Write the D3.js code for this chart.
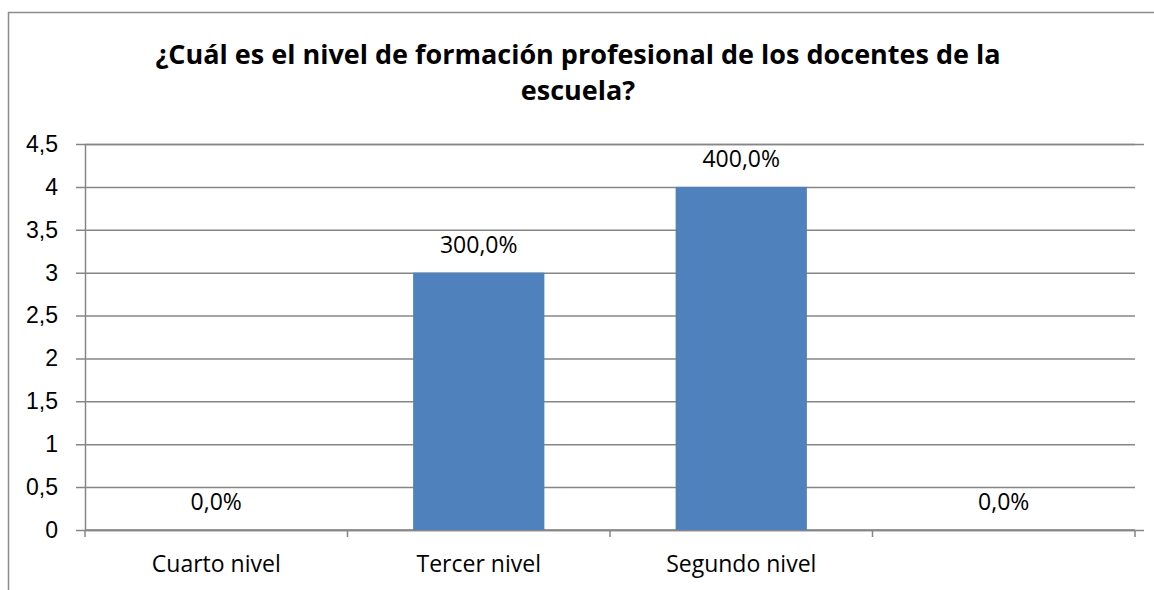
<!DOCTYPE html>
<html>
<head>
<meta charset="utf-8">
<title>Nivel de formación</title>
<script src="https://d3js.org/d3.v7.min.js"></script>
<style>
  body { margin: 0; background: #fff; }
  svg { font-family: "Open Sans", "Liberation Sans", sans-serif; }
</style>
</head>
<body>
<div id="chart"></div>
<script>
// data
var categories = ["Cuarto nivel", "Tercer nivel", "Segundo nivel", ""];
var values = [0, 3, 4, 0];
var valueLabels = ["0,0%", "300,0%", "400,0%", "0,0%"];
var yTicks = [0, 0.5, 1, 1.5, 2, 2.5, 3, 3.5, 4, 4.5];
var titleLines = ["¿Cuál es el nivel de formación profesional de los docentes de la", "escuela?"];

var W = 1154, H = 590;
var margin = { top: 144, right: 19, bottom: 60, left: 85 };
var width = W - margin.left - margin.right;
var height = H - margin.top - margin.bottom;

var svg = d3.select("#chart").append("svg")
    .attr("width", W)
    .attr("height", H);

// outer frame (right and bottom are cut off in the original)
svg.append("rect")
    .attr("x", 8.5).attr("y", 12.5)
    .attr("width", 1160).attr("height", 600)
    .attr("fill", "none")
    .attr("stroke", "#8c8c8c")
    .attr("stroke-width", 1.5);

svg.selectAll("text.title")
    .data(titleLines)
    .enter().append("text")
    .attr("class", "title")
    .attr("x", 578)
    .attr("y", function (d, i) { return 64 + i * 36; })
    .attr("text-anchor", "middle")
    .attr("font-size", 27)
    .attr("font-weight", "bold")
    .attr("fill", "#000")
    .text(function (d) { return d; });

var g = svg.append("g")
    .attr("transform", "translate(" + margin.left + "," + margin.top + ")");

var x = d3.scaleBand()
    .domain(d3.range(categories.length))
    .range([0, width])
    .paddingInner(0.5)
    .paddingOuter(0.25);

var y = d3.scaleLinear()
    .domain([0, 4.5])
    .range([height, 0]);

// gridlines + y axis
var yAxis = g.append("g")
    .call(d3.axisLeft(y).tickValues(yTicks)
        .tickSize(-width - 9)
        .tickFormat(function (d) { return String(d).replace(".", ","); }));
yAxis.select(".domain").attr("stroke", "#868686").attr("stroke-width", 1.5);
yAxis.selectAll(".tick line")
    .attr("stroke", "#868686")
    .attr("stroke-width", 1.5)
    .attr("x1", -9)
    .attr("x2", width);
yAxis.selectAll(".tick text")
    .attr("font-size", 23)
    .attr("fill", "#000")
    .attr("x", -27);

// category axis
var band = width / categories.length;
var xAxis = g.append("g")
    .attr("transform", "translate(0," + height + ")");
xAxis.append("line")
    .attr("x1", 0).attr("x2", width)
    .attr("stroke", "#868686").attr("stroke-width", 1.5);
xAxis.selectAll("line.tick")
    .data(d3.range(categories.length + 1))
    .enter().append("line")
    .attr("class", "tick")
    .attr("x1", function (d) { return d * band; })
    .attr("x2", function (d) { return d * band; })
    .attr("y1", 0).attr("y2", 7)
    .attr("stroke", "#868686").attr("stroke-width", 1.5);
xAxis.selectAll("text")
    .data(categories)
    .enter().append("text")
    .attr("x", function (d, i) { return x(i) + x.bandwidth() / 2; })
    .attr("y", 42)
    .attr("text-anchor", "middle")
    .attr("font-size", 23)
    .attr("fill", "#000")
    .text(function (d) { return d; });

// bars
g.selectAll("rect.bar")
    .data(values)
    .enter().append("rect")
    .attr("class", "bar")
    .attr("x", function (d, i) { return x(i); })
    .attr("y", function (d) { return y(d); })
    .attr("width", x.bandwidth())
    .attr("height", function (d) { return height - y(d); })
    .attr("fill", "#4f81bd");

// value labels
g.selectAll("text.val")
    .data(values)
    .enter().append("text")
    .attr("class", "val")
    .attr("x", function (d, i) { return x(i) + x.bandwidth() / 2; })
    .attr("y", function (d) { return y(d) - 20; })
    .attr("text-anchor", "middle")
    .attr("font-size", 23)
    .attr("fill", "#000")
    .text(function (d, i) { return valueLabels[i]; });
</script>
</body>
</html>
